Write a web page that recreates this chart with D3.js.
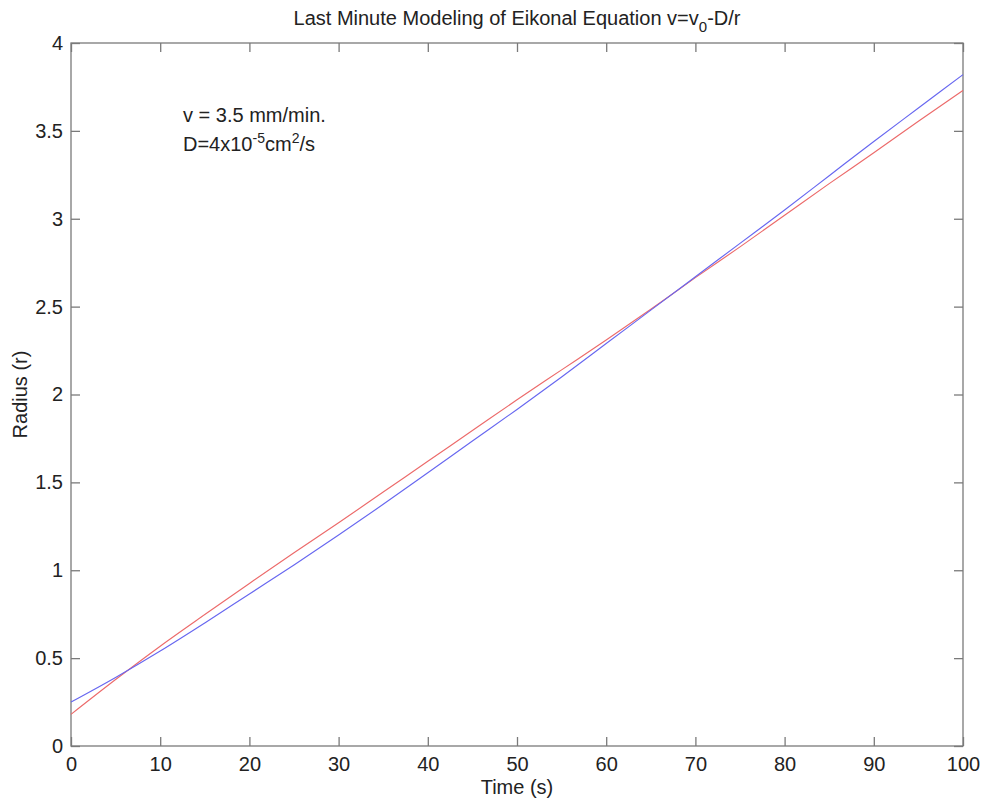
<!DOCTYPE html>
<html>
<head>
<meta charset="utf-8">
<script src="https://cdn.jsdelivr.net/npm/d3@7"></script>
<style>
  body { margin: 0; background: #fff; }
  text { font-family: "Liberation Sans", Arial, sans-serif; fill: #222; }
</style>
</head>
<body>
<svg id="chart" width="985" height="803"></svg>
<script>
// values, every 5 s
var time = [0, 5, 10, 15, 20, 25, 30, 35, 40, 45, 50, 55, 60, 65, 70, 75, 80, 85, 90, 95, 100];
var radiusBlue = [0.25, 0.39, 0.54, 0.70, 0.865, 1.03, 1.20, 1.375, 1.555, 1.735, 1.915,
                  2.10, 2.29, 2.48, 2.67, 2.86, 3.05, 3.245, 3.44, 3.63, 3.82];
var radiusRed = [0.18, 0.378, 0.568, 0.748, 0.925, 1.10, 1.27, 1.445, 1.62, 1.795, 1.97,
                 2.14, 2.31, 2.485, 2.665, 2.84, 3.02, 3.20, 3.375, 3.555, 3.73];
var xTicks = [0, 10, 20, 30, 40, 50, 60, 70, 80, 90, 100];
var yTicks = [0, 0.5, 1, 1.5, 2, 2.5, 3, 3.5, 4];

var svg = d3.select('#chart');
// plot box (window.top is taken, so prefixed names)
var pLeft = 71, pRight = 963, pTop = 43, pBottom = 746;

var x = d3.scaleLinear().domain([0, 100]).range([pLeft, pRight]);
var y = d3.scaleLinear().domain([0, 4]).range([pBottom, pTop]);
var axisColor = '#7a7a7a';
var tickLen = 9;

// frame
svg.append('rect')
    .attr('x', pLeft).attr('y', pTop)
    .attr('width', pRight - pLeft).attr('height', pBottom - pTop)
    .attr('fill', 'none').attr('stroke', axisColor).attr('stroke-width', 1.3);

function styleAxis(g) {
    g.select('.domain').remove();
    g.selectAll('.tick line').attr('stroke', axisColor).attr('stroke-width', 1.3);
    g.selectAll('.tick text').attr('font-size', 20).attr('fill', '#222');
}

// bottom and left axes carry the labels, ticks point inward
svg.append('g').attr('transform', 'translate(0,' + pBottom + ')')
    .call(d3.axisBottom(x).tickValues(xTicks).tickSize(-tickLen).tickPadding(11).tickFormat(d3.format('d')))
    .call(styleAxis);
svg.append('g').attr('transform', 'translate(' + pLeft + ',0)')
    .call(d3.axisLeft(y).tickValues(yTicks).tickSize(-tickLen).tickPadding(8).tickFormat(function(d) { return String(d); }))
    .call(styleAxis);
// top and right: ticks only
svg.append('g').attr('transform', 'translate(0,' + pTop + ')')
    .call(d3.axisTop(x).tickValues(xTicks).tickSize(-tickLen).tickFormat(''))
    .call(styleAxis);
svg.append('g').attr('transform', 'translate(' + pRight + ',0)')
    .call(d3.axisRight(y).tickValues(yTicks).tickSize(-tickLen).tickFormat(''))
    .call(styleAxis);

// lines
var line = d3.line()
    .x(function(d, i) { return x(time[i]); })
    .y(function(d) { return y(d); })
    .curve(d3.curveMonotoneX);

svg.append('path').datum(radiusRed)
    .attr('d', line).attr('fill', 'none')
    .attr('stroke', '#ec6a6a').attr('stroke-width', 1.15);
svg.append('path').datum(radiusBlue)
    .attr('d', line).attr('fill', 'none')
    .attr('stroke', '#6767f0').attr('stroke-width', 1.15);

// title
var title = svg.append('text')
    .attr('x', (pLeft + pRight) / 2).attr('y', 25)
    .attr('text-anchor', 'middle').attr('font-size', 20);
title.append('tspan').text('Last Minute Modeling of Eikonal Equation v=v');
title.append('tspan').attr('dy', 7).attr('font-size', 15).text('0');
title.append('tspan').attr('dy', -7).text('-D/r');

// axis labels
svg.append('text')
    .attr('x', (pLeft + pRight) / 2).attr('y', 794)
    .attr('text-anchor', 'middle').attr('font-size', 20)
    .text('Time (s)');
svg.append('text')
    .attr('transform', 'translate(27,' + ((pTop + pBottom) / 2) + ') rotate(-90)')
    .attr('text-anchor', 'middle').attr('font-size', 20)
    .text('Radius (r)');

// annotation
svg.append('text')
    .attr('x', 183).attr('y', 122).attr('font-size', 20)
    .text('v = 3.5 mm/min.');
var note = svg.append('text')
    .attr('x', 183).attr('y', 151).attr('font-size', 20);
note.append('tspan').text('D=4x10');
note.append('tspan').attr('dy', -8).attr('font-size', 14).text('-5');
note.append('tspan').attr('dy', 8).text('cm');
note.append('tspan').attr('dy', -8).attr('font-size', 14).text('2');
note.append('tspan').attr('dy', 8).text('/s');
</script>
</body>
</html>
